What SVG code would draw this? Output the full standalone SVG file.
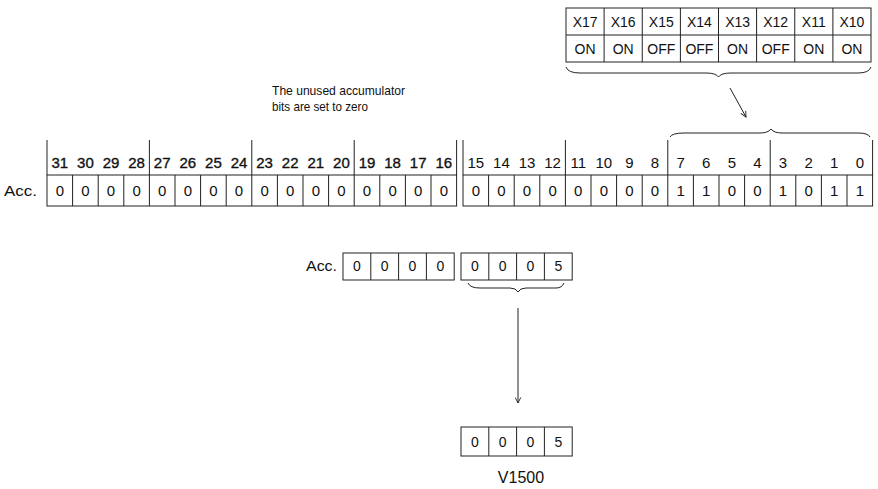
<svg xmlns="http://www.w3.org/2000/svg" width="878" height="489" viewBox="0 0 878 489">
<defs>
<style>
text{font-family:"Liberation Sans",Arial,sans-serif;font-size:15px;fill:#111;}
.c{text-anchor:middle;}
.b text{stroke:#111;stroke-width:0.35;}
.t text{font-size:14px;}
.n text{font-size:13px;}
.m text{font-size:14px;}
text.v{font-size:16px;}
.cell{fill:#fff;stroke:#222;stroke-width:1;}
.ln{stroke:#222;stroke-width:1;fill:none;}
</style>
<marker id="ah" viewBox="0 0 10 10" refX="9" refY="5" markerWidth="7" markerHeight="7" orient="auto" markerUnits="userSpaceOnUse">
<path d="M1,1 L9,5 L1,9" fill="none" stroke="#222" stroke-width="1.3"/>
</marker>
</defs>
<rect width="878" height="489" fill="#fff"/>

<g id="inputs">
<rect class="cell" x="566" y="8" width="305" height="54"/>
<path class="ln" d="M566,35H871 M604.1,8V62 M642.25,8V62 M680.4,8V62 M718.5,8V62 M756.6,8V62 M794.75,8V62 M832.9,8V62"/>
<g class="c t">
<text x="585.1" y="27">X17</text><text x="623.2" y="27">X16</text><text x="661.3" y="27">X15</text><text x="699.4" y="27">X14</text><text x="737.6" y="27">X13</text><text x="775.7" y="27">X12</text><text x="813.8" y="27">X11</text><text x="851.9" y="27">X10</text>
<text x="585.1" y="54">ON</text><text x="623.2" y="54">ON</text><text x="661.3" y="54">OFF</text><text x="699.4" y="54">OFF</text><text x="737.6" y="54">ON</text><text x="775.7" y="54">OFF</text><text x="813.8" y="54">ON</text><text x="851.9" y="54">ON</text>
</g>
</g>

<g id="note" class="n">
<text x="272" y="95" textLength="133" lengthAdjust="spacingAndGlyphs">The unused accumulator</text>
<text x="272" y="111" textLength="96" lengthAdjust="spacingAndGlyphs">bits are set to zero</text>
</g>

<g id="accumulator">
<text x="4" y="196" textLength="33" lengthAdjust="spacingAndGlyphs">Acc.</text>
<rect class="cell" x="47" y="175" width="409.6" height="31"/>
<rect class="cell" x="463" y="175" width="409.6" height="31"/>
<path class="ln" d="M72.6,175V206 M98.2,175V206 M123.8,175V206 M149.4,175V206 M175,175V206 M200.6,175V206 M226.2,175V206 M251.8,175V206 M277.4,175V206 M303,175V206 M328.6,175V206 M354.2,175V206 M379.8,175V206 M405.4,175V206 M431,175V206
M488.6,175V206 M514.2,175V206 M539.8,175V206 M565.4,175V206 M591,175V206 M616.6,175V206 M642.2,175V206 M667.8,175V206 M693.4,175V206 M719,175V206 M744.6,175V206 M770.2,175V206 M795.8,175V206 M821.4,175V206 M847,175V206
M47,140V175 M149.4,140V175 M251.8,140V175 M354.2,140V175 M456.6,140V175 M463,140V175 M565.4,140V175 M667.8,140V175 M770.2,140V175 M872.6,140V175"/>
<g class="c b">
<text x="59.8" y="168">31</text><text x="85.4" y="168">30</text><text x="111" y="168">29</text><text x="136.6" y="168">28</text><text x="162.2" y="168">27</text><text x="187.8" y="168">26</text><text x="213.4" y="168">25</text><text x="239" y="168">24</text><text x="264.6" y="168">23</text><text x="290.2" y="168">22</text><text x="315.8" y="168">21</text><text x="341.4" y="168">20</text><text x="367" y="168">19</text><text x="392.6" y="168">18</text><text x="418.2" y="168">17</text><text x="443.8" y="168">16</text>
</g>
<g class="c">
<text x="475.8" y="168">15</text><text x="501.4" y="168">14</text><text x="527" y="168">13</text><text x="552.6" y="168">12</text><text x="578.2" y="168">11</text><text x="603.8" y="168">10</text><text x="629.4" y="168">9</text><text x="655" y="168">8</text><text x="680.6" y="168">7</text><text x="706.2" y="168">6</text><text x="731.8" y="168">5</text><text x="757.4" y="168">4</text><text x="783" y="168">3</text><text x="808.6" y="168">2</text><text x="834.2" y="168">1</text><text x="859.8" y="168">0</text>
</g>
<g class="c">
<text x="59.8" y="196">0</text><text x="85.4" y="196">0</text><text x="111" y="196">0</text><text x="136.6" y="196">0</text><text x="162.2" y="196">0</text><text x="187.8" y="196">0</text><text x="213.4" y="196">0</text><text x="239" y="196">0</text><text x="264.6" y="196">0</text><text x="290.2" y="196">0</text><text x="315.8" y="196">0</text><text x="341.4" y="196">0</text><text x="367" y="196">0</text><text x="392.6" y="196">0</text><text x="418.2" y="196">0</text><text x="443.8" y="196">0</text>
<text x="475.8" y="196">0</text><text x="501.4" y="196">0</text><text x="527" y="196">0</text><text x="552.6" y="196">0</text><text x="578.2" y="196">0</text><text x="603.8" y="196">0</text><text x="629.4" y="196">0</text><text x="655" y="196">0</text><text x="680.6" y="196">1</text><text x="706.2" y="196">1</text><text x="731.8" y="196">0</text><text x="757.4" y="196">0</text><text x="783" y="196">1</text><text x="808.6" y="196">0</text><text x="834.2" y="196">1</text><text x="859.8" y="196">1</text>
</g>
</g>

<g id="acc-bcd">
<text x="306" y="271" textLength="31" lengthAdjust="spacingAndGlyphs">Acc.</text>
<rect class="cell" x="343" y="253" width="111.2" height="27"/>
<rect class="cell" x="461" y="253" width="111.2" height="27"/>
<path class="ln" d="M370.8,253V280 M398.6,253V280 M426.4,253V280 M488.8,253V280 M516.6,253V280 M544.4,253V280"/>
<g class="c m">
<text x="356.9" y="271">0</text><text x="384.7" y="271">0</text><text x="412.5" y="271">0</text><text x="440.3" y="271">0</text>
<text x="474.9" y="271">0</text><text x="502.7" y="271">0</text><text x="530.5" y="271">0</text><text x="558.3" y="271">5</text>
</g>
</g>

<g id="v1500">
<rect class="cell" x="461" y="427" width="111.2" height="29"/>
<path class="ln" d="M488.8,427V456 M516.6,427V456 M544.4,427V456"/>
<g class="c m">
<text x="474.9" y="446.5">0</text><text x="502.7" y="446.5">0</text><text x="530.5" y="446.5">0</text><text x="558.3" y="446.5">5</text>
</g>
<text class="c v" x="521" y="483">V1500</text>
</g>

<g id="connectors">
<path class="ln" d="M566,67 Q568,73 580,73 L706,73 Q716,73 718.5,77 Q721,73 731,73 L858,73 Q869,73 871,67"/>
<path class="ln" d="M670,137 Q672,133 684,133 L760,133 Q768,133 771,129 Q774,133 782,133 L858,133 Q868,133 870,137"/>
<path class="ln" d="M468,283 Q470,288 480,288 L510,288 Q516,288 518,292 Q520,288 526,288 L556,288 Q562,288 564,283"/>
<line class="ln" x1="730" y1="88" x2="746" y2="117" marker-end="url(#ah)"/>
<line class="ln" x1="518" y1="308" x2="518" y2="403" marker-end="url(#ah)"/>
</g>
</svg>
